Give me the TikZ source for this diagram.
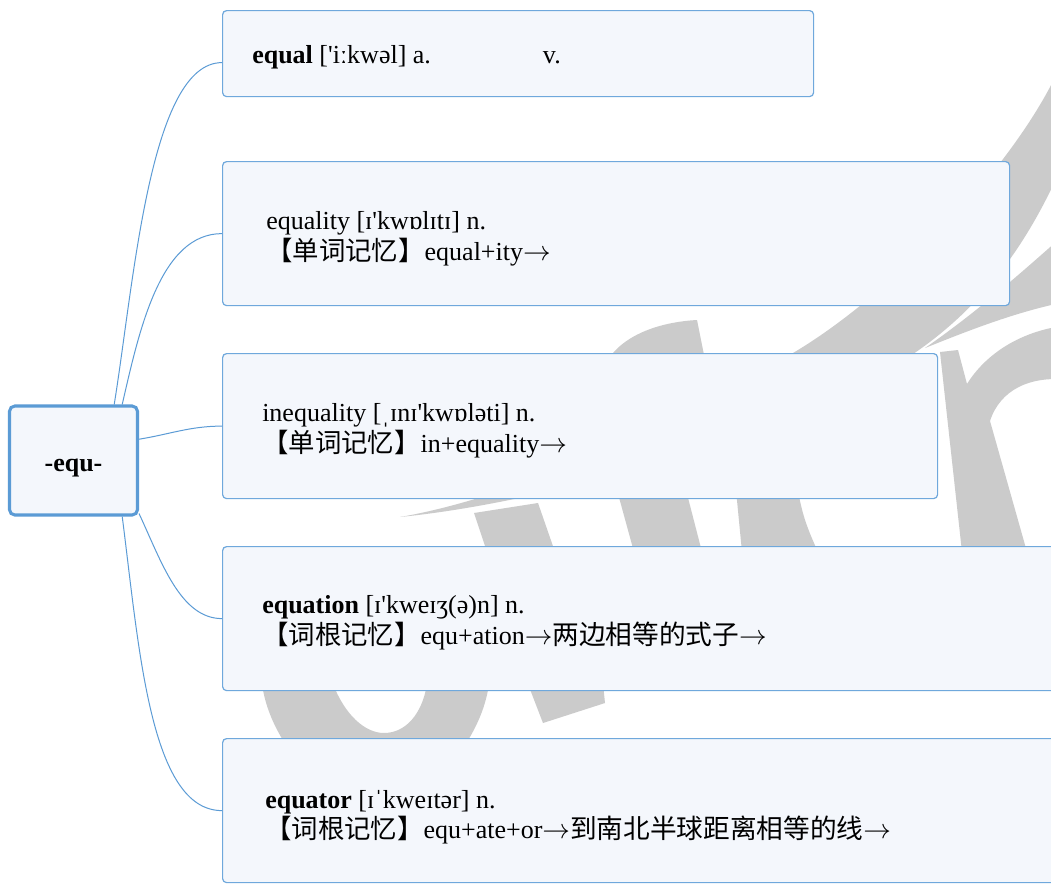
\documentclass[tikz,border=0pt]{standalone}
\usepackage{fontspec}
\setmainfont{Liberation Serif}[Ligatures=TeXOff]
\newfontfamily\cjk{Noto Sans CJK SC}
\usetikzlibrary{calc}
\definecolor{boxblue}{HTML}{6FA8DC}
\definecolor{rootblue}{HTML}{5B9BD5}
\definecolor{linkblue}{HTML}{5B9BD5}
\definecolor{boxfill}{HTML}{F4F7FC}
\definecolor{wmgray}{HTML}{CBCBCB}
\newcommand\lat{\fontsize{19.5}{24}\selectfont}
\newcommand\cja{\cjk\fontsize{19.8}{24}\selectfont}
\newcommand\cjb{\cjk\fontsize{20}{24}\selectfont}
\newcommand\arr{$\rightarrow$}
\tikzset{
  wm/.style={fill=wmgray, draw=none},
  childbox/.style={draw=boxblue, fill=boxfill, line width=0.9pt, rounded corners=3pt,
    anchor=north west, inner sep=0pt},
  rootbox/.style={draw=rootblue, fill=boxfill, line width=2.3pt, rounded corners=4pt,
    inner sep=0pt, font=\lat\bfseries, text height=20pt, text depth=4pt},
  txt/.style={inner sep=0pt, font=\lat, anchor=base west},
  link/.style={draw=linkblue, line width=0.75pt}
}
\begin{document}
\begin{tikzpicture}[x=0.75pt,y=-0.75pt]
\useasboundingbox (0,0) rectangle (1051,883);
\fill[white] (0,0) rectangle (1051,883);

% watermark (behind the boxes)
\fill[wm] (1070,40) .. controls (1040,140) and (900,290) .. (793,353)
  .. controls (650,440) and (500,500) .. (400,517)
  .. controls (520,505) and (700,460) .. (860,385)
  .. controls (960,335) and (1030,260) .. (1080,120) -- cycle;
\fill[wm] (925,348) .. controls (980,310) and (1030,265) .. (1075,225)
  -- (1075,300) .. controls (1020,310) and (970,330) .. (925,348) -- cycle;
\fill[wm] (940,352) -- (958,350) -- (967,384) .. controls (985,355) and (1020,330) .. (1070,325)
  -- (1070,380) .. controls (1030,375) and (1000,390) .. (990,421) -- (1027,552) -- (962,552) -- cycle;
\fill[wm] (605,365) .. controls (620,335) and (660,322) .. (697,320) -- (706,365) -- cycle;
\fill[wm] (617,490) -- (686,490) -- (702,552) -- (634,552) -- cycle;
\fill[wm] (736,490) -- (798,490) .. controls (802,515) and (808,530) .. (818,552) -- (742,552) -- cycle;
\fill[wm] (474,513) -- (538,503) -- (555,552) -- (487,552) -- cycle;
\fill[wm] (528,684) -- (603,684) -- (605,703) -- (543,723) -- cycle;
\fill[wm, even odd rule] (262,684) .. controls (265,705) and (273,725) .. (286,745) -- (465,745)
  .. controls (478,725) and (486,705) .. (489,684) -- cycle
  (333,684) .. controls (345,715) and (365,733) .. (384,733)
  .. controls (405,733) and (422,715) .. (427,684) -- cycle;

% boxes
\node[rootbox, minimum width=96pt, minimum height=81.75pt] (root) at (73.5,460.5) {-equ-};
\node[childbox, minimum width=443.25pt, minimum height=64.5pt] (b1) at (222,10) {};
\node[childbox, minimum width=590.25pt, minimum height=108pt] (b2) at (222,161) {};
\node[childbox, minimum width=536.25pt, minimum height=108.75pt] (b3) at (222,353) {};
\node[childbox, minimum width=630pt, minimum height=108pt] (b4) at (222,546) {};
\node[childbox, minimum width=630pt, minimum height=108pt] (b5) at (222,738) {};

% connectors
\draw[link] (root.54) .. controls +(20,-124) and +(-72,0) .. ($(b1.west)+(0,9)$);
\draw[link] (root.49) .. controls +(17,-74) and +(-62,0) .. (b2.west);
\draw[link] (root.18) .. controls +(31,-5) and +(-32,0) .. (b3.west);
\draw[link] (root.-39) .. controls +(22,47) and +(-42,0) .. (b4.west);
\draw[link] (root.-49) .. controls +(17,132) and +(-72,0) .. (b5.west);

% texts
\node[txt] (t1) at (252,63) {\makebox[218pt][l]{\textbf{equal} ['iːkwəl] a.}v.};
\node[txt] (t2a) at (266,229) {equality [ɪ'kwɒlɪtɪ] n.};
\node[txt] (t2b) at (266,260) {{\cja 【单词记忆】}equal+ity\arr};
\node[txt] (t3a) at (262,421) {inequality [ˌɪnɪ'kwɒləti] n.};
\node[txt] (t3b) at (262,452) {{\cja 【单词记忆】}in+equality\arr};
\node[txt] (t4a) at (262,613) {\textbf{equation} [ɪ'kweɪʒ(ə)n] n.};
\node[txt] (t4b) at (262,644) {{\cja 【词根记忆】}equ+ation\arr{\cjb 两边相等的式子}\arr};
\node[txt] (t5a) at (265,808) {\textbf{equator} [ɪˈkweɪtər] n.};
\node[txt] (t5b) at (265,838) {{\cja 【词根记忆】}equ+ate+or\arr{\cjb 到南北半球距离相等的线}\arr};
\end{tikzpicture}
\end{document}
